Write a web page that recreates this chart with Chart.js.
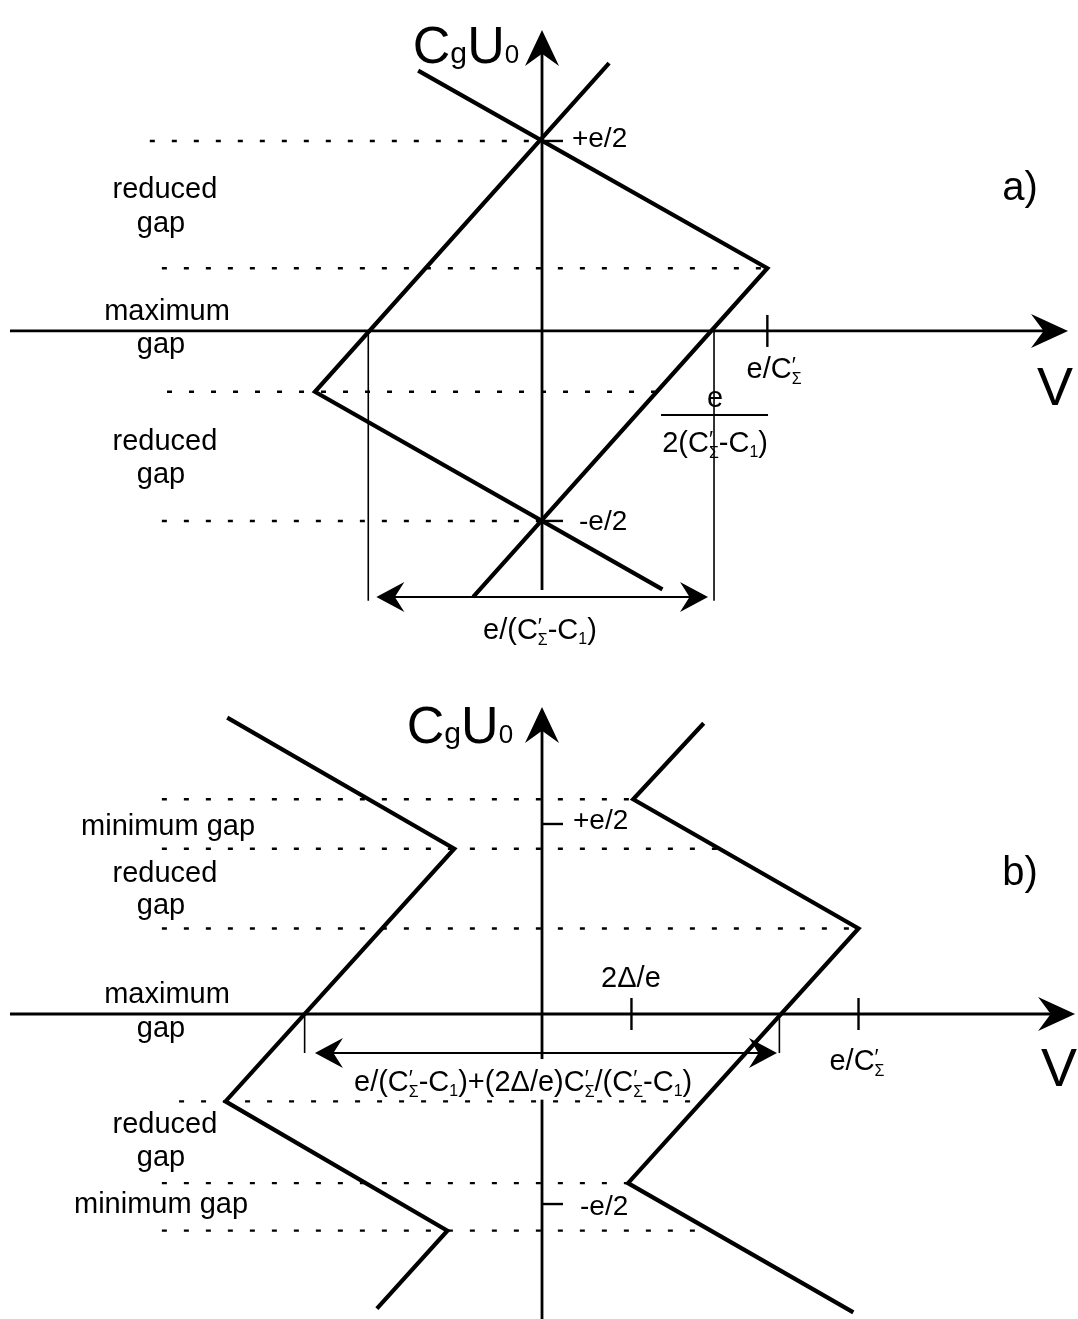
<!DOCTYPE html>
<html>
<head>
<meta charset="utf-8">
<script src="https://cdn.jsdelivr.net/npm/chart.js@4.4.1/dist/chart.umd.min.js"></script>
<style>
  html, body { margin: 0; padding: 0; background: #fff; }
  #wrap { position: relative; width: 1078px; height: 1319px; overflow: hidden; }
  canvas { position: absolute; left: 0; }
</style>
</head>
<body>
<div id="wrap">
  <canvas id="panelA" width="1078" height="660" style="top:0"></canvas>
  <canvas id="panelB" width="1078" height="659" style="top:660px"></canvas>
</div>
<script>
// V in units of e/2(C'Σ-C1), CgU0 in units of e/2

// --- panel a) ---
const aLineOne = [[-0.72, 1.37], [1.31, 0.33], [-0.40, -1.40]];
const aLineTwo = [[0.39, 1.41], [-1.32, -0.32], [0.70, -1.36]];
const aLevels = [1.0, 0.33, -0.32, -1.0];          // dotted lines
const aLevelFrom = [-2.28, -2.21, -2.18, -2.21];
const aLevelTo = [0, 1.31, 0.66, 0];
const aGapEdges = [-1.01, 1.0];                    // maximum gap width
const aGapDrop = -1.42;
const aSpan = [-0.963, 0.965, -1.40];              // double arrow: from, to, level
const aTicksV = [1.31];                            // e/C'Σ
const aTicksU = [1, -1];                           // ±e/2

// --- panel b) ---
const bLineLeft = [[-1.83, 1.56], [-0.51, 0.87], [-1.84, -0.46], [-0.55, -1.14], [-0.96, -1.55]];
const bLineRight = [[0.94, 1.53], [0.53, 1.13], [1.84, 0.45], [0.50, -0.89], [1.81, -1.57]];
const bLevels = [1.13, 0.87, 0.45, -0.46, -0.89, -1.14];
const bLevelFrom = [-2.21, -2.21, -2.21, -2.11, -2.21, -2.21];
const bLevelTo = [0.53, 1.02, 1.84, 0.92, 0.50, 0.95];
const bGapEdges = [-1.38, 1.38];
const bGapDrop = -0.205;
const bSpan = [-1.32, 1.366, -0.205];
const bTicksV = [0.52, 1.84];                      // 2Δ/e, e/C'Σ
const bTicksU = [1, -1];

const FONT = '"Liberation Sans", Arial, Helvetica, sans-serif';

// pieces of formula text: [text, size factor, baseline shift (em), no advance]
const CS = [['C'], ['\u2032', 0.75, -0.2, true], ['Σ', 0.55, 0.2]];
const C1 = [['-C'], ['1', 0.55, 0.16]];
const CGU0 = [['C'], ['g', 0.58], ['U'], ['0', 0.5]];

const aLabels = [
    { t: [['reduced']], x: -2.192, y: 0.700 },
    { t: [['gap']], x: -2.215, y: 0.521 },
    { t: [['maximum']], x: -2.180, y: 0.058 },
    { t: [['gap']], x: -2.215, y: -0.116 },
    { t: [['reduced']], x: -2.192, y: -0.626 },
    { t: [['gap']], x: -2.215, y: -0.800 },
    { t: [['+e/2']], x: 0.174, y: 0.968, align: 'left', size: 28 },
    { t: [['-e/2']], x: 0.215, y: -1.047, align: 'left', size: 28 },
    { t: [['a)']], x: 2.779, y: 0.689, size: 40 },
    { t: [['V']], x: 2.983, y: -0.389, size: 54 },
    { t: [['e/'], ...CS], x: 1.349, y: -0.247 },
    { t: [['e']], x: 1.006, y: -0.400 },
    { t: [['2('], ...CS, ...C1, [')']], x: 1.006, y: -0.637 },
    { t: [['e/('], ...CS, ...C1, [')']], x: -0.012, y: -1.621 },
    { t: CGU0, x: -0.442, y: 1.411, size: 52 }
];
const bLabels = [
    { t: CGU0, x: -0.477, y: 1.426, size: 52 },
    { t: [['+e/2']], x: 0.180, y: 0.974, align: 'left', size: 28 },
    { t: [['minimum gap']], x: -2.174, y: 0.942 },
    { t: [['reduced']], x: -2.192, y: 0.695 },
    { t: [['gap']], x: -2.215, y: 0.526 },
    { t: [['b)']], x: 2.779, y: 0.679, size: 40 },
    { t: [['maximum']], x: -2.180, y: 0.058 },
    { t: [['gap']], x: -2.215, y: -0.121 },
    { t: [['2Δ/e']], x: 0.517, y: 0.142 },
    { t: [['e/'], ...CS], x: 1.831, y: -0.295 },
    { t: [['V']], x: 3.006, y: -0.379, size: 54 },
    { t: [['e/('], ...CS, ...C1, [')+(2Δ/e)'], ...CS, ['/('], ...CS, ...C1, [')']],
      x: -0.110, y: -0.405, box: true },
    { t: [['reduced']], x: -2.192, y: -0.626 },
    { t: [['gap']], x: -2.215, y: -0.800 },
    { t: [['minimum gap']], x: -2.215, y: -1.047 },
    { t: [['-e/2']], x: 0.221, y: -1.058, align: 'left', size: 28 }
];

function pts(list) {
    return list.map(p => ({ x: p[0], y: p[1] }));
}

function buildDatasets(lines, levels, from, to, edges, drop) {
    const ds = [];
    const base = { showLine: true, pointRadius: 0, pointHoverRadius: 0, borderColor: '#000', backgroundColor: '#000', fill: false };
    lines.forEach(l => ds.push({ ...base, data: pts(l), borderWidth: 4.2, borderJoinStyle: 'miter' }));
    levels.forEach((lv, i) => ds.push({
        ...base,
        data: [{ x: from[i], y: lv }, { x: to[i], y: lv }],
        borderWidth: 2.4, borderDash: [5, 17]
    }));
    edges.forEach(e => ds.push({ ...base, data: [{ x: e, y: 0 }, { x: e, y: drop }], borderWidth: 1.6 }));
    return ds;
}

function line(ctx, x1, y1, x2, y2) {
    ctx.beginPath();
    ctx.moveTo(x1, y1);
    ctx.lineTo(x2, y2);
    ctx.stroke();
}

// barbed arrow head, (dx, dy) points towards the tip
function dart(ctx, tx, ty, dx, dy, len, half) {
    const bx = tx - dx * len, by = ty - dy * len;
    const nx = -dy, ny = dx;
    ctx.beginPath();
    ctx.moveTo(tx, ty);
    ctx.lineTo(bx + nx * half, by + ny * half);
    ctx.lineTo(tx - dx * len * 0.66, ty - dy * len * 0.66);
    ctx.lineTo(bx - nx * half, by - ny * half);
    ctx.closePath();
    ctx.fill();
}

function richText(ctx, parts, x, y, size, align, box) {
    let w = 0;
    const sized = parts.map(p => {
        const s = size * (p[1] || 1);
        ctx.font = s + 'px ' + FONT;
        const pw = ctx.measureText(p[0]).width;
        if (!p[3]) w += pw;
        return { t: p[0], s, dy: (p[2] || 0) * size, stack: p[3], w: pw };
    });
    let cx = align === 'left' ? x : x - w / 2;
    if (box) {
        ctx.fillStyle = '#fff';
        ctx.fillRect(cx - 4, y - size * 1.1, w + 8, size * 1.4);
        ctx.fillStyle = '#000';
    }
    ctx.textBaseline = 'alphabetic';
    ctx.textAlign = 'left';
    sized.forEach(p => {
        ctx.font = p.s + 'px ' + FONT;
        ctx.fillText(p.t, cx, y + p.dy);
        if (!p.stack) cx += p.w;
    });
}

function decor(cfg) {
    return {
        id: 'decor',
        afterDatasetsDraw(chart) {
            const { ctx } = chart;
            const sx = chart.scales.x, sy = chart.scales.y;
            const px = v => sx.getPixelForValue(v);
            const py = v => sy.getPixelForValue(v);
            ctx.save();
            ctx.strokeStyle = '#000';
            ctx.fillStyle = '#000';
            ctx.lineCap = 'butt';

            // axes
            ctx.lineWidth = 2.8;
            line(ctx, px(cfg.axisX[0]), py(0), px(cfg.axisX[1]) - 14, py(0));
            dart(ctx, px(cfg.axisX[1]), py(0), 1, 0, 37, 17);
            line(ctx, px(0), py(cfg.axisY[0]), px(0), py(cfg.axisY[1]) + 14);
            dart(ctx, px(0), py(cfg.axisY[1]), 0, -1, 36, 17);

            // tick marks
            ctx.lineWidth = 2.4;
            cfg.ticksV.forEach(v => line(ctx, px(v), py(0) - 16, px(v), py(0) + 16));
            cfg.ticksU.forEach(u => line(ctx, px(0), py(u), px(0) + 21, py(u)));

            // width of the maximum gap
            const [s1, s2, sl] = cfg.span;
            ctx.lineWidth = 2;
            line(ctx, px(s1) + 10, py(sl), px(s2) - 10, py(sl));
            dart(ctx, px(s1), py(sl), -1, 0, 28, 15);
            dart(ctx, px(s2), py(sl), 1, 0, 28, 15);

            if (cfg.fraction) {
                const f = cfg.fraction;
                ctx.lineWidth = 2;
                line(ctx, px(f[0]), py(f[2]), px(f[1]), py(f[2]));
            }

            cfg.labels.forEach(l => richText(ctx, l.t, px(l.x), py(l.y), l.size || 29, l.align, l.box));
            ctx.restore();
        }
    };
}

function makeChart(id, datasets, yMin, yMax, cfg) {
    return new Chart(document.getElementById(id), {
        type: 'scatter',
        data: { datasets },
        options: {
            responsive: false,
            animation: false,
            devicePixelRatio: 1,
            events: [],
            layout: { padding: 0 },
            elements: { line: { tension: 0 } },
            scales: {
                x: { type: 'linear', min: -3.151, max: 3.116, display: false },
                y: { type: 'linear', min: yMin, max: yMax, display: false }
            },
            plugins: {
                colors: { enabled: false },
                legend: { display: false },
                tooltip: { enabled: false }
            }
        },
        plugins: [decor(cfg)]
    });
}

makeChart('panelA',
    buildDatasets([aLineOne, aLineTwo], aLevels, aLevelFrom, aLevelTo, aGapEdges, aGapDrop),
    -1.732, 1.742,
    {
        axisX: [-3.093, 3.058], axisY: [-1.363, 1.584],
        ticksV: aTicksV, ticksU: aTicksU, span: aSpan,
        fraction: [0.692, 1.314, -0.442], labels: aLabels
    });

makeChart('panelB',
    buildDatasets([bLineLeft, bLineRight], bLevels, bLevelFrom, bLevelTo, bGapEdges, bGapDrop),
    -1.605, 1.863,
    {
        axisX: [-3.093, 3.099], axisY: [-1.62, 1.616],
        ticksV: bTicksV, ticksU: bTicksU, span: bSpan,
        labels: bLabels
    });
</script>
</body>
</html>
